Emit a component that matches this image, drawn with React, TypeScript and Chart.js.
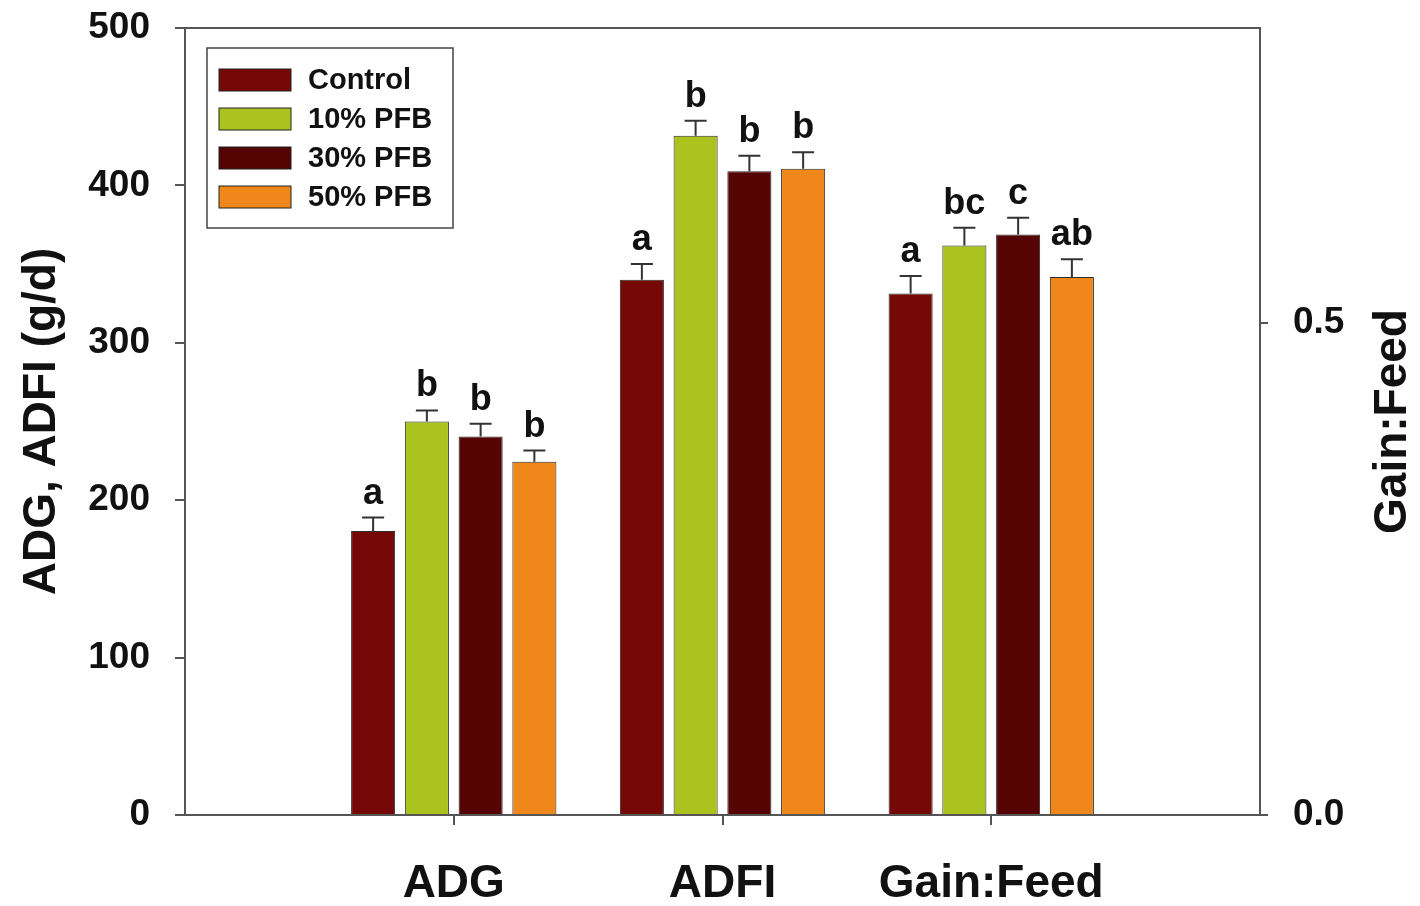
import { useEffect, useRef } from "react";
import { Chart, registerables } from "chart.js";

Chart.register(...registerables);

// ---- data ----
const categories = ["", "ADG", "ADFI", "Gain:Feed", ""];
const seriesNames = ["Control", "10% PFB", "30% PFB", "50% PFB"];
const seriesColors = ["#770808", "#abc31f", "#560303", "#f0871b"];

// left axis (g/d): [ADG, ADFI]
const controlGd = [180.5, 340];
const pfb10Gd = [250, 431.5];
const pfb30Gd = [240.5, 409];
const pfb50Gd = [224.5, 410.5];
const controlGdErr = [8.5, 10];
const pfb10GdErr = [7, 9.6];
const pfb30GdErr = [8, 9.8];
const pfb50GdErr = [7, 10.6];
const controlGdLetters = ["a", "a"];
const pfb10GdLetters = ["b", "b"];
const pfb30GdLetters = ["b", "b"];
const pfb50GdLetters = ["b", "b"];

// right axis (Gain:Feed), one per series
const gainFeed = [0.53, 0.579, 0.59, 0.547];
const gainFeedErr = [0.018, 0.018, 0.017, 0.018];
const gainFeedLetters = ["a", "bc", "c", "ab"];

const leftTicks = [0, 100, 200, 300, 400, 500];
const rightTicks = [0, 0.5];
const rightMax = 0.8;

const FONT = "'Liberation Sans', Arial, sans-serif";
const AXIS = "#555555";

export default function App() {
  const ref = useRef<HTMLCanvasElement | null>(null);

  useEffect(() => {
    if (!ref.current) return;
    const gdVals = [controlGd, pfb10Gd, pfb30Gd, pfb50Gd];
    const gdErrs = [controlGdErr, pfb10GdErr, pfb30GdErr, pfb50GdErr];
    const gdLet = [controlGdLetters, pfb10GdLetters, pfb30GdLetters, pfb50GdLetters];

    const datasets: any[] = [];
    gdVals.forEach((vals, i) => {
      datasets.push({
        label: seriesNames[i],
        data: [null, vals[0], vals[1], null, null],
        errs: [null, gdErrs[i][0], gdErrs[i][1], null, null],
        letters: [null, gdLet[i][0], gdLet[i][1], null, null],
        backgroundColor: seriesColors[i],
        borderColor: "#2a2a2a",
        borderWidth: 1,
        yAxisID: "y",
      });
    });
    gainFeed.forEach((v, i) => {
      datasets.push({
        label: seriesNames[i] + " (G:F)",
        data: [null, null, null, v, null],
        errs: [null, null, null, gainFeedErr[i], null],
        letters: [null, null, null, gainFeedLetters[i], null],
        backgroundColor: seriesColors[i],
        borderColor: "#2a2a2a",
        borderWidth: 1,
        yAxisID: "y1",
      });
    });

    const decor = {
      id: "decor",
      afterDatasetsDraw(chart: any) {
        const ctx = chart.ctx;
        const ca = chart.chartArea;
        ctx.save();
        // error bars + letters
        chart.data.datasets.forEach((ds: any, di: number) => {
          const meta = chart.getDatasetMeta(di);
          const scale = chart.scales[ds.yAxisID];
          meta.data.forEach((el: any, idx: number) => {
            const v = ds.data[idx];
            const e = ds.errs[idx];
            if (v == null || e == null) return;
            const yTop = scale.getPixelForValue(v + e);
            ctx.strokeStyle = "#333";
            ctx.lineWidth = 2;
            ctx.beginPath();
            ctx.moveTo(el.x, el.y);
            ctx.lineTo(el.x, yTop);
            ctx.moveTo(el.x - 11, yTop);
            ctx.lineTo(el.x + 11, yTop);
            ctx.stroke();
            const letter = ds.letters[idx];
            if (letter) {
              ctx.fillStyle = "#111";
              ctx.font = `bold 36px ${FONT}`;
              ctx.textAlign = "center";
              ctx.textBaseline = "alphabetic";
              ctx.fillText(letter, el.x, yTop - 14);
            }
          });
        });
        // top frame line
        ctx.strokeStyle = AXIS;
        ctx.lineWidth = 2;
        ctx.beginPath();
        ctx.moveTo(ca.left, ca.top);
        ctx.lineTo(ca.right, ca.top);
        ctx.stroke();
        // legend
        const bx = ca.left + 22;
        const by = ca.top + 20;
        ctx.fillStyle = "#fff";
        ctx.fillRect(bx, by, 246, 180);
        ctx.strokeStyle = "#444";
        ctx.lineWidth = 1.5;
        ctx.strokeRect(bx, by, 246, 180);
        seriesNames.forEach((name, i) => {
          const cy = by + 32 + i * 39;
          ctx.fillStyle = seriesColors[i];
          ctx.fillRect(bx + 12, cy - 11, 72, 22);
          ctx.strokeStyle = "#222";
          ctx.lineWidth = 1;
          ctx.strokeRect(bx + 12, cy - 11, 72, 22);
          ctx.fillStyle = "#111";
          ctx.font = `bold 29px ${FONT}`;
          ctx.textAlign = "left";
          ctx.textBaseline = "middle";
          ctx.fillText(name, bx + 101, cy + 1);
        });
        // axis titles
        const cy = (ca.top + ca.bottom) / 2;
        ctx.fillStyle = "#111";
        ctx.font = `bold 46px ${FONT}`;
        ctx.textAlign = "center";
        ctx.textBaseline = "middle";
        ctx.save();
        ctx.translate(42, cy);
        ctx.rotate(-Math.PI / 2);
        ctx.fillText("ADG, ADFI (g/d)", 0, 0);
        ctx.restore();
        ctx.save();
        ctx.translate(1393, cy);
        ctx.rotate(-Math.PI / 2);
        ctx.fillText("Gain:Feed", 0, 0);
        ctx.restore();
        ctx.restore();
      },
    };

    const chart = new Chart(ref.current, {
      type: "bar",
      data: { labels: categories, datasets },
      options: {
        animation: false,
        responsive: false,
        maintainAspectRatio: false,
        layout: { padding: { top: 28, left: 0, right: 0, bottom: 0 } },
        datasets: { bar: { skipNull: true, categoryPercentage: 0.8, barPercentage: 0.82 } } as any,
        plugins: {
          legend: { display: false },
          title: { display: false },
          tooltip: { enabled: false },
        },
        scales: {
          x: {
            type: "category",
            offset: false,
            afterFit: (s: any) => {
              s.height = 91;
              s.paddingLeft = 0;
              s.paddingRight = 0;
            },
            grid: {
              offset: false,
              drawOnChartArea: false,
              tickLength: 10,
              lineWidth: 2,
              color: AXIS,
              tickColor: (c: any) => (c.index === 0 || c.index === 4 ? "rgba(0,0,0,0)" : AXIS),
            },
            border: { display: true, color: AXIS, width: 2 },
            ticks: {
              autoSkip: false,
              maxRotation: 0,
              padding: 32,
              color: "#111",
              font: { family: FONT, size: 46, weight: "bold" },
            },
          },
          y: {
            type: "linear",
            position: "left",
            min: 0,
            max: 500,
            afterFit: (s: any) => {
              s.width = 185;
              s.paddingTop = 0;
              s.paddingBottom = 0;
            },
            afterBuildTicks: (s: any) => {
              s.ticks = leftTicks.map((v) => ({ value: v }));
            },
            grid: { drawOnChartArea: false, tickLength: 10, lineWidth: 2, color: AXIS },
            border: { display: true, color: AXIS, width: 2 },
            ticks: {
              padding: 25,
              color: "#111",
              font: { family: FONT, size: 37, weight: "bold" },
              callback: (v: any) => String(v),
            },
          },
          y1: {
            type: "linear",
            position: "right",
            min: 0,
            max: rightMax,
            afterFit: (s: any) => {
              s.width = 160;
              s.paddingTop = 0;
              s.paddingBottom = 0;
            },
            afterBuildTicks: (s: any) => {
              s.ticks = rightTicks.map((v) => ({ value: v }));
            },
            grid: { drawOnChartArea: false, tickLength: 8, lineWidth: 2, color: AXIS },
            border: { display: true, color: AXIS, width: 2 },
            ticks: {
              padding: 25,
              color: "#111",
              font: { family: FONT, size: 37, weight: "bold" },
              callback: (v: any) => Number(v).toFixed(1),
            },
          },
        },
      },
      plugins: [decor],
    });
    return () => chart.destroy();
  }, []);

  return (
    <div style={{ position: "fixed", left: 0, top: 0, width: 1420, height: 906, background: "#fff" }}>
      <canvas ref={ref} width={1420} height={906} style={{ display: "block" }} />
    </div>
  );
}
